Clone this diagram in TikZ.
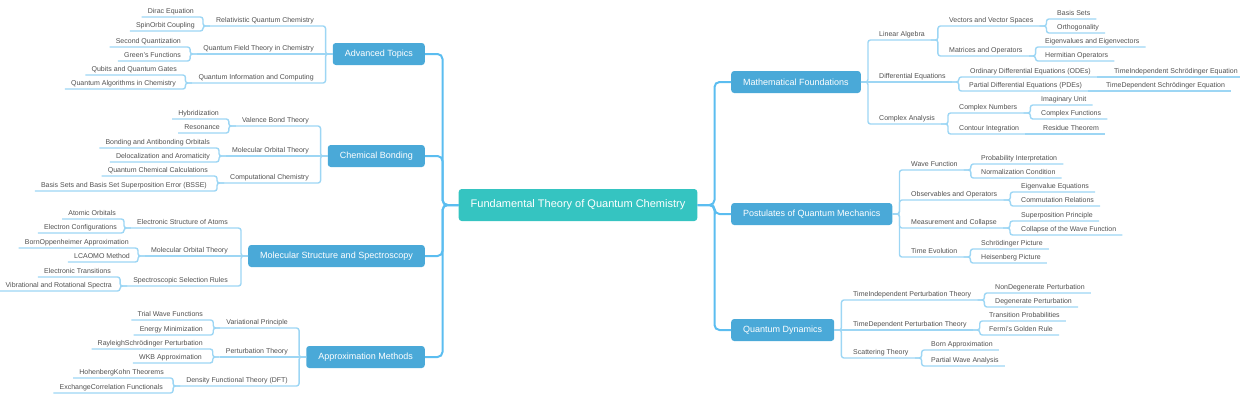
\documentclass[tikz,border=0pt]{standalone}
\usepackage{fontspec}
\setmainfont{Liberation Sans}

\definecolor{rootteal}{HTML}{35C4C1}
\definecolor{branchblue}{HTML}{4AA9D8}
\definecolor{trunkblue}{HTML}{5BBDF0}
\definecolor{linkblue}{HTML}{9DD6F4}
\definecolor{labelgray}{HTML}{505050}

\tikzset{
  root/.style={fill=rootteal, rounded corners=3pt, text=white,
    font=\fontsize{11}{13}\selectfont, minimum height=32pt, inner xsep=12pt},
  branch/.style={fill=branchblue, rounded corners=3pt, text=white,
    font=\fontsize{9}{11}\selectfont, minimum height=22pt, inner xsep=12pt},
  topic/.style={text=labelgray, font=\fontsize{7}{8}\selectfont, inner xsep=6pt,
    inner ysep=1.8pt, text height=5.2pt, text depth=1.5pt},
  trunk/.style={draw=trunkblue, line width=2pt, rounded corners=5pt},
  link/.style={draw=linkblue, line width=1.4pt, rounded corners=2.5pt},
}

\begin{document}
\begin{tikzpicture}[x=1pt,y=-1pt]
  \useasboundingbox (0,0) rectangle (1240,400);

  % centre and main branches
  \node[root] (fund) at (578,205) {Fundamental Theory of Quantum Chemistry};
  \node[branch, anchor=east] (adv) at (425,54) {Advanced Topics};
  \node[branch, anchor=east] (bond) at (425,156) {Chemical Bonding};
  \node[branch, anchor=east] (struct) at (425,256) {Molecular Structure and Spectroscopy};
  \node[branch, anchor=east] (approx) at (425,357) {Approximation Methods};
  \node[branch, anchor=west] (math) at (731,82) {Mathematical Foundations};
  \node[branch, anchor=west] (post) at (731,214) {Postulates of Quantum Mechanics};
  \node[branch, anchor=west] (dyn) at (731,330) {Quantum Dynamics};

  \foreach \b in {adv,bond,struct,approx}
    \draw[trunk] (fund.west) -- ++(-16,0) |- (\b.east);
  \foreach \b in {math,post,dyn}
    \draw[trunk] (fund.east) -- ++(17,0) |- (\b.west);

  % left side
  \node[topic, anchor=south east] (relqc) at (320,26) {Relativistic Quantum Chemistry};
  \node[topic, anchor=south east] (qftc) at (320,54) {Quantum Field Theory in Chemistry};
  \node[topic, anchor=south east] (qinfo) at (320,83) {Quantum Information and Computing};
  \node[topic, anchor=south east] (dirac) at (200,17) {Dirac Equation};
  \node[topic, anchor=south east] (spinorb) at (201,31) {SpinOrbit Coupling};
  \node[topic, anchor=south east] (secq) at (187,47) {Second Quantization};
  \node[topic, anchor=south east] (green) at (187,61) {Green's Functions};
  \node[topic, anchor=south east] (qubits) at (183,75) {Qubits and Quantum Gates};
  \node[topic, anchor=south east] (qalgo) at (182,89) {Quantum Algorithms in Chemistry};

  \node[topic, anchor=south east] (vbt) at (315,126) {Valence Bond Theory};
  \node[topic, anchor=south east] (mot) at (315,156) {Molecular Orbital Theory};
  \node[topic, anchor=south east] (comp) at (315,183) {Computational Chemistry};
  \node[topic, anchor=south east] (hybrid) at (225,119) {Hybridization};
  \node[topic, anchor=south east] (reson) at (226,133) {Resonance};
  \node[topic, anchor=south east] (bab) at (216,148) {Bonding and Antibonding Orbitals};
  \node[topic, anchor=south east] (deloc) at (216,162) {Delocalization and Aromaticity};
  \node[topic, anchor=south east] (qcc) at (214,176) {Quantum Chemical Calculations};
  \node[topic, anchor=south east] (bsse) at (213,191) {Basis Sets and Basis Set Superposition Error (BSSE)};

  \node[topic, anchor=south east] (esa) at (234,228) {Electronic Structure of Atoms};
  \node[topic, anchor=south east] (mot2) at (234,256) {Molecular Orbital Theory};
  \node[topic, anchor=south east] (ssr) at (234,286) {Spectroscopic Selection Rules};
  \node[topic, anchor=south east] (atorb) at (122,219) {Atomic Orbitals};
  \node[topic, anchor=south east] (econf) at (123,233) {Electron Configurations};
  \node[topic, anchor=south east] (bornopp) at (135,248) {BornOppenheimer Approximation};
  \node[topic, anchor=south east] (lcao) at (136,262) {LCAOMO Method};
  \node[topic, anchor=south east] (etrans) at (117,277) {Electronic Transitions};
  \node[topic, anchor=south east] (vibrot) at (118,291) {Vibrational and Rotational Spectra};

  \node[topic, anchor=south east] (varp) at (294,328) {Variational Principle};
  \node[topic, anchor=south east] (pert) at (294,357) {Perturbation Theory};
  \node[topic, anchor=south east] (dft) at (294,386) {Density Functional Theory (DFT)};
  \node[topic, anchor=south east] (trialwf) at (209,320) {Trial Wave Functions};
  \node[topic, anchor=south east] (emin) at (209,335) {Energy Minimization};
  \node[topic, anchor=south east] (rsp) at (209,349) {RayleighSchrödinger Perturbation};
  \node[topic, anchor=south east] (wkb) at (208,363) {WKB Approximation};
  \node[topic, anchor=south east] (hkthm) at (170,378) {HohenbergKohn Theorems};
  \node[topic, anchor=south east] (xcfun) at (169,393) {ExchangeCorrelation Functionals};

  \foreach \p/\c in {adv.west/relqc, adv.west/qinfo, bond.west/vbt, bond.west/comp,
      struct.west/esa, struct.west/ssr, approx.west/varp, approx.west/dft,
      relqc.south west/dirac, relqc.south west/spinorb, qftc.south west/secq,
      qftc.south west/green, qinfo.south west/qubits, qinfo.south west/qalgo,
      vbt.south west/hybrid, vbt.south west/reson, mot.south west/bab,
      mot.south west/deloc, comp.south west/qcc, comp.south west/bsse,
      esa.south west/atorb, esa.south west/econf, mot2.south west/bornopp,
      mot2.south west/lcao, ssr.south west/etrans, ssr.south west/vibrot,
      varp.south west/trialwf, varp.south west/emin, pert.south west/rsp,
      pert.south west/wkb, dft.south west/hkthm, dft.south west/xcfun}
    \draw[link] (\p) -- ++(-7,0) |- (\c.south west);
  \draw[link] (adv.west) -- (qftc.south west);
  \draw[link] (bond.west) -- (mot.south west);
  \draw[link] (struct.west) -- (mot2.south west);
  \draw[link] (approx.west) -- (pert.south west);

  % right side
  \node[topic, anchor=south west] (linalg) at (873,40) {Linear Algebra};
  \node[topic, anchor=south west] (diffeq) at (873,82) {Differential Equations};
  \node[topic, anchor=south west] (cplx) at (873,124) {Complex Analysis};
  \node[topic, anchor=south west] (vecsp) at (943,26) {Vectors and Vector Spaces};
  \node[topic, anchor=south west] (matop) at (943,56) {Matrices and Operators};
  \node[topic, anchor=south west] (basis) at (1051,19) {Basis Sets};
  \node[topic, anchor=south west] (ortho) at (1051,33) {Orthogonality};
  \node[topic, anchor=south west] (eigvv) at (1039,47) {Eigenvalues and Eigenvectors};
  \node[topic, anchor=south west] (herm) at (1039,61) {Hermitian Operators};
  \node[topic, anchor=south west] (ode) at (964,77) {Ordinary Differential Equations (ODEs)};
  \node[topic, anchor=south west] (pde) at (963,91) {Partial Differential Equations (PDEs)};
  \node[topic, anchor=south west] (tise) at (1108,77) {TimeIndependent Schrödinger Equation};
  \node[topic, anchor=south west] (tdse) at (1100,91) {TimeDependent Schrödinger Equation};
  \node[topic, anchor=south west] (cnum) at (953,113) {Complex Numbers};
  \node[topic, anchor=south west] (cint) at (953,134) {Contour Integration};
  \node[topic, anchor=south west] (imag) at (1035,105) {Imaginary Unit};
  \node[topic, anchor=south west] (cfun) at (1035,119) {Complex Functions};
  \node[topic, anchor=south west] (resid) at (1037,134) {Residue Theorem};

  \node[topic, anchor=south west] (wavef) at (905,170) {Wave Function};
  \node[topic, anchor=south west] (obsop) at (905,200) {Observables and Operators};
  \node[topic, anchor=south west] (meas) at (905,228) {Measurement and Collapse};
  \node[topic, anchor=south west] (timeev) at (905,257) {Time Evolution};
  \node[topic, anchor=south west] (probint) at (975,164) {Probability Interpretation};
  \node[topic, anchor=south west] (normc) at (975,178) {Normalization Condition};
  \node[topic, anchor=south west] (eigeq) at (1015,192) {Eigenvalue Equations};
  \node[topic, anchor=south west] (commrel) at (1015,206) {Commutation Relations};
  \node[topic, anchor=south west] (superp) at (1015,221) {Superposition Principle};
  \node[topic, anchor=south west] (collapse) at (1015,235) {Collapse of the Wave Function};
  \node[topic, anchor=south west] (schpic) at (975,249) {Schrödinger Picture};
  \node[topic, anchor=south west] (heispic) at (975,263) {Heisenberg Picture};

  \node[topic, anchor=south west] (tipt) at (847,300) {TimeIndependent Perturbation Theory};
  \node[topic, anchor=south west] (tdpt) at (847,330) {TimeDependent Perturbation Theory};
  \node[topic, anchor=south west] (scatt) at (847,358) {Scattering Theory};
  \node[topic, anchor=south west] (nondeg) at (989,293) {NonDegenerate Perturbation};
  \node[topic, anchor=south west] (degen) at (989,307) {Degenerate Perturbation};
  \node[topic, anchor=south west] (transp) at (983,321) {Transition Probabilities};
  \node[topic, anchor=south west] (fermi) at (983,335) {Fermi's Golden Rule};
  \node[topic, anchor=south west] (bornap) at (925,350) {Born Approximation};
  \node[topic, anchor=south west] (pwave) at (925,366) {Partial Wave Analysis};

  \foreach \p/\c in {math.east/linalg, math.east/cplx,
      linalg.south east/vecsp, linalg.south east/matop, vecsp.south east/basis,
      vecsp.south east/ortho, matop.south east/eigvv, matop.south east/herm,
      diffeq.south east/ode, diffeq.south east/pde, cplx.south east/cnum,
      cplx.south east/cint, cnum.south east/imag, cnum.south east/cfun,
      post.east/wavef, post.east/obsop, post.east/meas, post.east/timeev,
      wavef.south east/probint, wavef.south east/normc, obsop.south east/eigeq,
      obsop.south east/commrel, meas.south east/superp, meas.south east/collapse,
      timeev.south east/schpic, timeev.south east/heispic,
      dyn.east/tipt, dyn.east/scatt, tipt.south east/nondeg, tipt.south east/degen,
      tdpt.south east/transp, tdpt.south east/fermi, scatt.south east/bornap,
      scatt.south east/pwave}
    \draw[link] (\p) -- ++(7,0) |- (\c.south east);
  \draw[link] (math.east) -- (diffeq.south east);
  \draw[link] (dyn.east) -- (tdpt.south east);
  \draw[link] (ode.south east) -- (tise.south east);
  \draw[link] (pde.south east) -- (tdse.south east);
  \draw[link] (cint.south east) -- (resid.south east);
\end{tikzpicture}
\end{document}
